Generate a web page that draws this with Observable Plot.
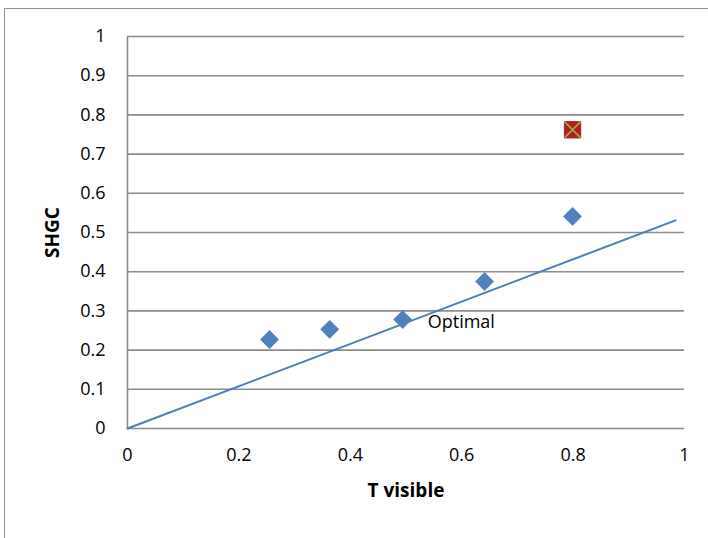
<!DOCTYPE html>
<html>
<head>
<meta charset="utf-8">
<script src="https://cdn.jsdelivr.net/npm/d3@7"></script>
<script src="https://cdn.jsdelivr.net/npm/@observablehq/plot@0.6"></script>
<style>
  html, body { margin: 0; padding: 0; background: #fff; }
  #wrap { position: relative; width: 708px; height: 538px; overflow: hidden; }
  #border { position: absolute; left: 4px; top: 8px; width: 760px; height: 600px; border: 1px solid #8f8f8f; box-sizing: border-box; }
  #chart { position: absolute; left: 0; top: 0; }
</style>
</head>
<body>
<div id="wrap"><div id="border"></div><div id="chart"></div></div>
<script>
// Glazing options (diamonds)
const tVisible = [0.255, 0.363, 0.494, 0.641, 0.799];
const shgc = [0.227, 0.253, 0.278, 0.375, 0.541];
// Outlier point (red square with X)
const outlierX = [0.799];
const outlierY = [0.762];
// "Optimal" reference line
const optimalX = [0, 0.984];
const optimalY = [0, 0.531];
const optimalLabel = "Optimal";
const optimalLabelX = 0.539;
const optimalLabelY = 0.27;
// Ticks
const xTicks = [0, 0.2, 0.4, 0.6, 0.8, 1];
const yTicks = [0, 0.1, 0.2, 0.3, 0.4, 0.5, 0.6, 0.7, 0.8, 0.9, 1];
const xTitle = "T visible";
const yTitle = "SHGC";

const points = tVisible.map((x, i) => ({x, y: shgc[i]}));
const outlier = outlierX.map((x, i) => ({x, y: outlierY[i]}));
const line = optimalX.map((x, i) => ({x, y: optimalY[i]}));

const font = "'Open Sans', 'DejaVu Sans', sans-serif";
const fmt = d => String(+d.toFixed(1));

const plot = Plot.plot({
  width: 708,
  height: 538,
  marginLeft: 127,
  marginRight: 24,
  marginTop: 36,
  marginBottom: 110,
  style: {fontFamily: font, fontSize: "18px", color: "#000", background: "transparent", overflow: "visible"},
  x: {domain: [0, 1], ticks: xTicks, tickFormat: fmt, label: null},
  y: {domain: [0, 1], ticks: yTicks, tickFormat: fmt, label: null},
  marks: [
    Plot.ruleY(yTicks, {stroke: "#8c8c8c", strokeWidth: 1.6}),
    Plot.ruleX([0], {stroke: "#8c8c8c", strokeWidth: 1.6}),
    Plot.axisX({ticks: xTicks, tickSize: 0, tickPadding: 20, fontSize: 18, tickFormat: fmt}),
    Plot.axisY({ticks: yTicks, tickSize: 0, tickPadding: 22, fontSize: 18, tickFormat: fmt}),
    Plot.line(line, {x: "x", y: "y", stroke: "#4a7ebb", strokeWidth: 2}),
    Plot.dot(points, {x: "x", y: "y", symbol: "square", r: 7.3, rotate: 45, fill: "#4f81bd", stroke: "#4a7ebb", strokeWidth: 0.5}),
    Plot.dot(outlier, {x: "x", y: "y", symbol: "square", r: 9.2, fill: "#c0171b", stroke: "#8a2b22", strokeWidth: 1}),
    Plot.dot(outlier, {x: "x", y: "y", symbol: "times", r: 7.2, stroke: "#8fb04a", strokeWidth: 1.6}),
    Plot.text([optimalLabel], {x: () => optimalLabelX, y: () => optimalLabelY, text: d => d, textAnchor: "start", fontSize: 18, fill: "#000"}),
    Plot.text([xTitle], {frameAnchor: "bottom", textAnchor: "middle", dy: 68, text: d => d, fontWeight: "bold", fontSize: 19, fill: "#000"}),
    Plot.text([yTitle], {frameAnchor: "left", textAnchor: "middle", dx: -75, rotate: -90, text: d => d, fontWeight: "bold", fontSize: 19, fill: "#000"})
  ]
});
document.getElementById("chart").appendChild(plot);
</script>
</body>
</html>
